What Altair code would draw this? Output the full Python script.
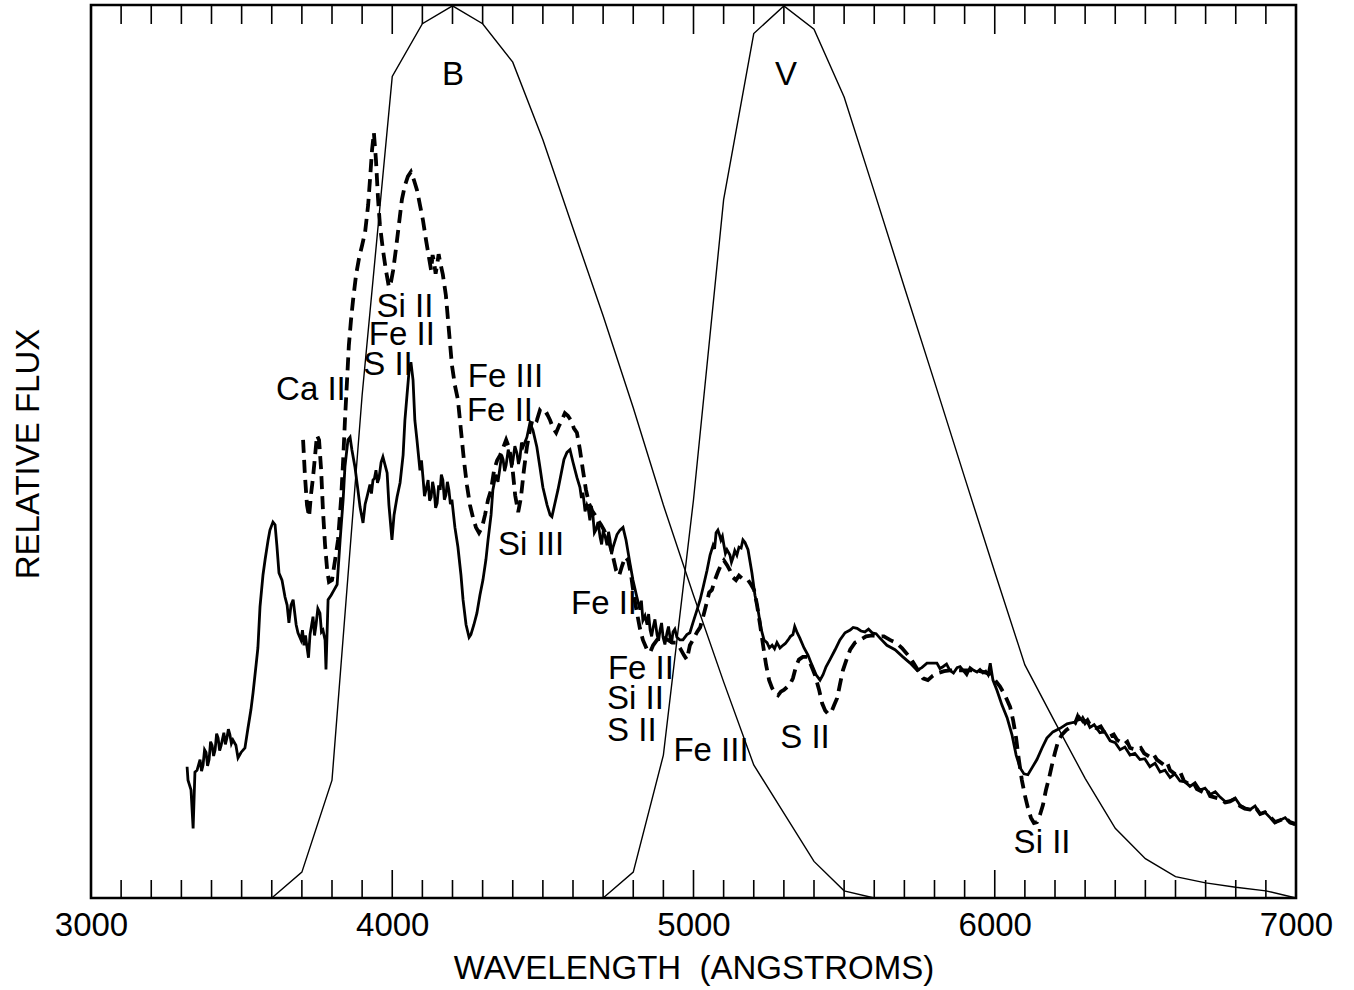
import altair as alt
import pandas as pd

FONT = "Liberation Sans"
FS = 33

# --- spectrum (solid): (wavelength in Angstrom, relative flux) ---
solid = [
    (3319, 14.7), (3322, 13.2), (3332, 12.1), (3339, 7.8), (3345, 14.1), (3352, 14.3), (3362, 15.5),
    (3367, 14.2), (3372, 14.9), (3377, 16.6), (3382, 16.3), (3387, 14.8), (3392, 15.5), (3397, 17.5),
    (3402, 17.1), (3407, 15.9), (3412, 16.6), (3417, 18.4), (3422, 17.9), (3427, 16.5), (3432, 17.1),
    (3441, 18.5), (3446, 17.2), (3451, 17.9), (3456, 18.9), (3461, 18.3), (3466, 17.3), (3471, 17.7),
    (3481, 17.1), (3488, 15.7), (3498, 16.3),
    (3511, 16.8), (3521, 19.0), (3531, 21.1), (3538, 23.0), (3548, 26.1), (3554, 28.0), (3561, 32.6),
    (3571, 36.2), (3578, 37.9), (3588, 40.1), (3594, 41.2), (3604, 42.1), (3611, 41.8), (3617, 39.5),
    (3624, 36.4), (3634, 35.6), (3644, 33.7), (3651, 32.8), (3657, 30.8), (3664, 32.8), (3671, 33.4),
    (3681, 30.6), (3687, 29.7), (3697, 28.9), (3702, 30.0), (3707, 28.3), (3712, 29.4), (3717, 28.1),
    (3722, 26.9), (3727, 29.5), (3732, 30.5), (3737, 31.5), (3742, 29.4), (3747, 30.6), (3753, 32.4),
    (3760, 31.9), (3765, 29.8), (3770, 30.0), (3777, 28.9), (3780, 25.6), (3787, 33.4), (3797, 33.9),
    (3807, 34.5),
    (3817, 35.1), (3827, 40.1), (3837, 44.6), (3843, 48.3), (3853, 51.3), (3860, 51.6), (3866, 50.2),
    (3876, 48.3), (3886, 45.7), (3893, 43.8), (3903, 42.0), (3910, 44.1), (3916, 44.9), (3926, 46.3),
    (3931, 45.3), (3936, 46.8), (3941, 47.0), (3946, 47.9), (3951, 46.5), (3956, 47.0), (3963, 48.8),
    (3969, 49.4), (3976, 48.5), (3983, 47.6),
    (3989, 44.0), (3999, 40.1), (4006, 42.9), (4016, 44.9), (4026, 46.5), (4036, 49.6), (4042, 53.5),
    (4049, 56.3), (4056, 59.1), (4062, 60.0), (4069, 58.0), (4075, 53.5), (4082, 51.3), (4092, 47.9),
    (4097, 49.0), (4102, 47.1), (4107, 45.0), (4112, 45.7), (4119, 46.8), (4124, 44.5), (4129, 44.9),
    (4134, 46.6), (4139, 45.7), (4144, 43.7), (4149, 44.2), (4154, 46.2), (4159, 45.7), (4163, 47.4),
    (4168, 46.8), (4173, 44.6), (4178, 45.1), (4183, 46.6), (4188, 45.7), (4193, 44.1), (4198, 44.6),
    (4208, 41.5), (4218, 39.3), (4228, 36.2),
    (4235, 33.4), (4245, 30.6), (4255, 29.2), (4261, 29.5), (4271, 30.6), (4281, 31.9), (4291, 33.9),
    (4301, 35.6), (4311, 37.9), (4318, 40.1), (4328, 42.9), (4334, 45.7), (4344, 47.4), (4351, 46.6),
    (4358, 48.3), (4363, 49.6), (4368, 49.1), (4373, 47.8), (4378, 48.5), (4385, 50.2), (4391, 49.4),
    (4396, 48.2), (4401, 49.1), (4407, 50.6), (4414, 49.8), (4419, 48.6), (4424, 49.3), (4429, 51.0),
    (4434, 50.5),
    (4447, 51.6), (4457, 53.2), (4467, 52.4), (4480, 50.5), (4490, 48.3), (4500, 46.0), (4514, 44.0),
    (4524, 42.9), (4530, 42.7), (4540, 44.2), (4550, 45.7), (4560, 47.4), (4570, 49.1), (4580, 49.9),
    (4590, 50.2), (4600, 48.8), (4613, 47.1), (4623, 46.0), (4628, 44.8), (4633, 45.4), (4640, 43.3),
    (4646, 44.0), (4651, 43.5), (4656, 42.3), (4661, 43.9), (4666, 42.9), (4671, 40.9), (4676, 41.2),
    (4683, 42.1), (4690, 40.4), (4695, 39.6), (4700, 41.0), (4706, 40.6), (4713, 39.5), (4718, 41.0),
    (4723, 40.1), (4728, 38.5), (4733, 39.3),
    (4746, 40.7), (4756, 41.2), (4766, 41.5), (4776, 40.1), (4789, 37.5), (4799, 35.6), (4812, 33.7),
    (4822, 32.3), (4827, 33.3), (4832, 31.1), (4839, 31.6), (4846, 30.6), (4851, 31.8), (4856, 30.0),
    (4861, 29.3), (4866, 30.3), (4872, 31.2), (4879, 29.5), (4884, 28.8), (4889, 30.0), (4894, 30.8),
    (4899, 29.2), (4905, 28.4), (4912, 29.7), (4917, 30.4), (4922, 29.2), (4927, 28.5), (4932, 29.8),
    (4938, 30.1), (4945, 29.2), (4955, 28.9), (4965, 28.9),
    (4978, 29.5), (4988, 29.7), (4998, 30.8), (5012, 32.3), (5022, 33.4), (5032, 34.8), (5045, 36.7),
    (5055, 38.4), (5065, 39.5), (5070, 39.1), (5075, 40.9), (5081, 41.2), (5086, 40.7), (5091, 40.1),
    (5096, 40.5), (5101, 39.5), (5106, 38.6), (5111, 39.0),
    (5121, 38.4), (5126, 37.6), (5131, 38.1), (5137, 38.9), (5144, 38.4), (5151, 39.3), (5158, 39.2),
    (5164, 40.1), (5171, 39.8), (5181, 39.0), (5194, 36.4),
    (5204, 33.9), (5214, 32.3), (5224, 30.2), (5234, 28.9), (5244, 28.6), (5252, 28.0), (5261, 28.3),
    (5269, 27.9), (5277, 28.6), (5287, 28.0), (5297, 28.3), (5305, 28.5), (5314, 28.9), (5322, 29.3),
    (5330, 29.5), (5336, 30.4), (5343, 29.8), (5353, 29.1), (5367, 28.0), (5380, 27.2),
    (5393, 26.1), (5407, 25.0), (5420, 24.4), (5430, 25.0), (5440, 25.9), (5453, 26.7), (5470, 27.8),
    (5486, 28.9), (5503, 29.7), (5520, 30.0), (5530, 30.3), (5543, 30.2), (5556, 29.9), (5569, 29.8),
    (5581, 30.1), (5593, 29.7), (5606, 29.6), (5619, 29.1),
    (5642, 28.3), (5669, 27.8), (5695, 27.0), (5719, 26.3), (5742, 25.5), (5758, 25.8), (5775, 26.3),
    (5792, 26.3), (5808, 26.3), (5818, 25.7), (5828, 25.9), (5840, 26.2), (5851, 25.5), (5863, 25.2),
    (5875, 25.8), (5885, 25.9), (5895, 25.5), (5907, 25.0), (5918, 25.8), (5930, 25.5),
    (5941, 25.3), (5951, 25.6), (5961, 25.2), (5970, 25.4), (5978, 25.0), (5985, 26.3), (5994, 24.4),
    (6007, 23.3), (6024, 21.6), (6041, 20.2),
    (6057, 18.3), (6071, 16.0), (6084, 14.6), (6097, 13.9), (6110, 13.8), (6124, 14.6), (6140, 15.5),
    (6157, 16.8), (6173, 17.9), (6193, 18.6), (6217, 19.0), (6240, 19.5), (6266, 19.7), (6280, 20.3),
    (6293, 19.7), (6305, 19.9), (6316, 19.1), (6330, 19.4), (6349, 18.5), (6365, 18.6), (6383, 17.6),
    (6400, 17.4), (6416, 16.6), (6432, 16.9), (6449, 16.0), (6465, 16.2), (6482, 15.5), (6498, 15.6),
    (6515, 14.7), (6532, 15.1), (6549, 14.1), (6565, 14.3), (6582, 13.5), (6598, 13.9), (6615, 13.1),
    (6632, 13.0), (6648, 12.5), (6665, 12.9), (6681, 12.1), (6698, 12.3), (6715, 11.6), (6732, 11.9),
    (6748, 11.3), (6765, 10.8), (6781, 10.9), (6798, 11.2), (6814, 10.4), (6830, 10.1), (6847, 9.9),
    (6864, 10.3), (6881, 9.4), (6897, 9.6), (6914, 9.0), (6930, 8.4), (6947, 8.7), (6964, 9.0),
    (6980, 8.4), (6997, 8.2),
]

# --- spectrum (dashed) ---
dashed = [
    (3704, 51.3), (3710, 47.4), (3717, 44.0), (3724, 42.7), (3730, 45.1), (3737, 47.1), (3744, 49.6),
    (3750, 51.8), (3757, 51.3), (3764, 47.9), (3770, 43.4), (3777, 39.5), (3784, 36.7), (3790, 35.4),
    (3800, 35.6), (3810, 37.8), (3820, 40.1), (3830, 44.6), (3837, 49.0), (3843, 53.5), (3850, 58.0),
    (3856, 61.9), (3863, 64.7), (3870, 67.0), (3880, 69.8), (3890, 71.7), (3900, 73.1), (3910, 74.6),
    (3920, 77.6), (3926, 80.4), (3933, 83.8), (3939, 85.7), (3946, 82.6), (3953, 78.2), (3959, 75.4),
    (3969, 72.6), (3979, 70.3), (3989, 68.4), (3996, 69.0), (4003, 70.3), (4012, 72.6), (4022, 75.4),
    (4032, 78.2), (4042, 79.8), (4052, 80.8), (4062, 81.3), (4072, 80.4), (4082, 79.3), (4092, 77.6),
    (4102, 75.9), (4112, 73.7), (4122, 71.7), (4129, 70.3), (4134, 72.0), (4139, 71.2), (4144, 69.9),
    (4149, 70.9), (4154, 72.1), (4159, 71.2),
    (4168, 69.8), (4178, 67.5), (4188, 63.6), (4198, 59.7), (4208, 57.4), (4218, 55.8), (4228, 52.4),
    (4238, 49.0), (4248, 46.2), (4258, 44.0), (4268, 42.6), (4278, 41.5), (4288, 40.9), (4298, 41.5),
    (4308, 42.9), (4318, 44.6), (4328, 45.7), (4338, 47.9), (4348, 49.0), (4358, 49.6), (4368, 50.4),
    (4378, 51.3), (4388, 50.4), (4398, 48.5), (4408, 45.1), (4418, 43.2), (4427, 44.8), (4437, 47.9),
    (4447, 50.5), (4457, 52.4), (4467, 53.8), (4480, 53.5), (4490, 54.6), (4504, 54.0), (4514, 54.2),
    (4524, 53.5), (4534, 52.6), (4544, 52.1), (4554, 52.9), (4563, 53.5), (4573, 54.3), (4583, 54.0),
    (4593, 53.5), (4603, 52.6), (4613, 52.1), (4623, 50.2), (4633, 47.9), (4643, 45.7), (4653, 44.2),
    (4663, 43.4), (4673, 42.9), (4683, 42.3), (4693, 41.8), (4703, 41.2), (4713, 40.4), (4723, 39.5),
    (4733, 38.2), (4743, 36.7), (4753, 36.1), (4763, 37.2), (4773, 38.2), (4783, 37.8), (4793, 36.1),
    (4802, 33.9), (4812, 32.0), (4822, 30.2), (4832, 28.9), (4846, 27.8), (4856, 27.5), (4866, 28.3),
    (4879, 28.9), (4889, 28.9), (4902, 29.1), (4915, 28.9), (4929, 28.6), (4942, 28.6), (4955, 28.0),
    (4968, 27.2), (4978, 26.7), (4988, 28.3), (4998, 28.9), (5012, 29.8), (5022, 30.3), (5032, 31.5),
    (5042, 32.8), (5052, 34.2), (5061, 34.5), (5071, 35.6), (5081, 36.5), (5091, 37.3), (5101, 37.8),
    (5111, 37.3), (5121, 36.7), (5131, 35.9), (5141, 35.6), (5151, 36.1), (5161, 35.8), (5171, 35.8),
    (5181, 35.6), (5191, 35.1), (5201, 34.5), (5211, 32.8), (5221, 30.6), (5231, 28.3), (5241, 26.1),
    (5251, 24.4), (5261, 23.5), (5271, 23.0), (5281, 22.7), (5290, 23.1), (5300, 23.3), (5310, 23.6),
    (5320, 23.9), (5330, 24.6), (5340, 25.9), (5350, 26.7), (5363, 27.0), (5377, 27.0), (5390, 26.1),
    (5403, 25.0), (5417, 23.3), (5427, 21.8), (5437, 21.0), (5447, 20.6), (5457, 20.8), (5467, 21.6),
    (5477, 22.4), (5486, 23.9), (5496, 25.5), (5510, 26.9), (5520, 27.8), (5536, 28.6), (5553, 28.9),
    (5573, 29.3), (5593, 29.4), (5613, 29.3), (5632, 29.3), (5652, 28.9), (5672, 28.6), (5692, 28.0),
    (5712, 27.2), (5729, 26.4), (5745, 25.5), (5762, 24.6), (5778, 24.4), (5795, 24.9), (5812, 25.2),
    (5832, 25.4), (5851, 25.5), (5875, 25.5), (5898, 25.5), (5918, 25.5), (5941, 25.5), (5964, 25.3),
    (5984, 25.1), (6001, 24.4), (6017, 23.7), (6034, 22.7), (6051, 21.4), (6061, 19.9), (6071, 17.9),
    (6080, 15.5), (6090, 13.2), (6100, 11.5), (6110, 10.1), (6120, 9.0), (6130, 8.4), (6140, 8.5),
    (6150, 9.3), (6160, 10.4), (6170, 12.1), (6180, 13.4), (6190, 14.9), (6200, 16.3), (6210, 17.5),
    (6223, 18.3), (6237, 18.8), (6250, 19.1), (6266, 19.5), (6275, 20.3), (6283, 19.6), (6292, 20.1),
    (6300, 19.6), (6308, 19.9), (6316, 19.4), (6339, 19.0), (6352, 19.2), (6363, 18.6), (6383, 18.1),
    (6395, 18.3), (6406, 17.7), (6429, 17.2), (6440, 17.5), (6449, 16.8), (6472, 16.6), (6485, 16.8),
    (6496, 16.2), (6515, 15.8), (6527, 16.1), (6538, 15.5), (6562, 14.9), (6572, 15.2), (6582, 14.3),
    (6605, 13.7), (6617, 14.0), (6628, 13.1), (6648, 12.7), (6660, 12.9), (6671, 12.2), (6695, 11.8),
    (6705, 12.1), (6715, 11.4), (6748, 11.1), (6765, 10.7), (6781, 10.8), (6797, 11.1), (6814, 10.3),
    (6830, 10.0), (6847, 9.9), (6864, 10.2), (6881, 9.4), (6897, 9.6), (6914, 9.1), (6930, 8.5),
    (6947, 8.7), (6964, 9.0), (6980, 8.5), (6997, 8.3),
]

# --- filter transmission curves ---
filter_B = [
    (3600, 0.0), (3700, 2.9), (3800, 13.2), (3900, 56.3), (4000, 92.0), (4100, 97.9), (4200, 99.9),
    (4300, 97.9), (4400, 93.6), (4500, 84.9), (4600, 75.0), (4700, 65.2), (4800, 54.9), (4900, 44.0),
    (5000, 33.9), (5100, 24.2), (5200, 14.9), (5300, 9.5), (5400, 4.1), (5500, 0.8), (5600, 0.0),
]
filter_V = [
    (4700, 0.0), (4800, 2.9), (4900, 16.0), (5000, 44.6), (5100, 78.2), (5200, 96.8), (5300, 99.9),
    (5400, 97.3), (5500, 89.7), (5600, 79.1), (5700, 68.4), (5800, 57.8), (5900, 47.1), (6000, 36.5),
    (6100, 26.1), (6200, 19.7), (6300, 13.4), (6400, 7.8), (6500, 4.4), (6600, 2.4), (6700, 1.7),
    (6800, 1.2), (6900, 0.8), (7000, 0.0),
]

# --- axis ticks ---
tick_minor = [3100, 3200, 3300, 3400, 3500, 3600, 3700, 3800, 3900,
              4100, 4200, 4300, 4400, 4500, 4600, 4700, 4800, 4900,
              5100, 5200, 5300, 5400, 5500, 5600, 5700, 5800, 5900,
              6100, 6200, 6300, 6400, 6500, 6600, 6700, 6800, 6900]
tick_major = [4000, 5000, 6000]
tick_labels = [3000, 4000, 5000, 6000, 7000]

# --- annotations ---
labels_center = [
    ("B", 4202, 92.2), ("V", 5307, 92.2), ("Si II", 4042, 66.2), ("Fe II", 4032, 63.0),
    ("S II", 3986, 59.7), ("Ca II", 3730, 56.9), ("Si III", 4461, 39.5), ("Fe II", 4703, 32.9),
    ("Fe III", 5058, 16.5), ("S II", 5370, 17.9), ("Si II", 6157, 6.2),
]
labels_left = [
    ("Fe III", 4251, 58.3), ("Fe II", 4248, 54.5), ("Fe II", 4716, 25.6),
    ("Si II", 4713, 22.3), ("S II", 4713, 18.7),
]

W, H = 1205, 893
xs = alt.Scale(domain=[3000, 7000], nice=False, zero=False)
ys = alt.Scale(domain=[0, 100], nice=False, zero=False)

def df(pairs, cols=("wl", "flux")):
    return pd.DataFrame(pairs, columns=list(cols))

xaxis = alt.Axis(values=tick_labels, format="d", ticks=False, domain=False, grid=False,
                 labelFont=FONT, labelFontSize=FS, labelColor="black", labelPadding=27,
                 labelBaseline="middle", labelFlush=False, labelOverlap=False,
                 title="WAVELENGTH\u00a0 (ANGSTROMS)", titleFont=FONT, titleFontSize=FS,
                 titleFontWeight="normal", titleColor="black", titleY=70, titleBaseline="middle")
yaxis = alt.Axis(labels=False, ticks=False, domain=False, grid=False,
                 title="RELATIVE FLUX", titleFont=FONT, titleFontSize=FS, titleFontWeight="normal",
                 titleColor="black", titleAngle=270, titleX=-63, titleY=H / 2 + 2,
                 titleBaseline="middle", titleAlign="center")

base_x = alt.X("wl:Q", scale=xs, axis=xaxis)
base_y = alt.Y("flux:Q", scale=ys, axis=yaxis)
px = alt.X("wl:Q", scale=xs)
py = alt.Y("flux:Q", scale=ys)

solid_line = alt.Chart(df(solid)).mark_line(color="black", strokeWidth=2.8).encode(x=base_x, y=base_y)
dashed_line = alt.Chart(df(dashed)).mark_line(color="black", strokeWidth=3.8, strokeDash=[13, 7]).encode(x=px, y=py)
b_line = alt.Chart(df(filter_B)).mark_line(color="black", strokeWidth=1.4).encode(x=px, y=py)
v_line = alt.Chart(df(filter_V)).mark_line(color="black", strokeWidth=1.4).encode(x=px, y=py)

minor_df = pd.DataFrame({"wl": tick_minor})
major_df = pd.DataFrame({"wl": tick_major})
ticks = (
    alt.Chart(minor_df).mark_rule(color="black", strokeWidth=1.6).encode(x=px, y=alt.value(0), y2=alt.value(19))
    + alt.Chart(minor_df).mark_rule(color="black", strokeWidth=1.6).encode(x=px, y=alt.value(H), y2=alt.value(H - 18))
    + alt.Chart(major_df).mark_rule(color="black", strokeWidth=1.6).encode(x=px, y=alt.value(0), y2=alt.value(29))
    + alt.Chart(major_df).mark_rule(color="black", strokeWidth=1.6).encode(x=px, y=alt.value(H), y2=alt.value(H - 28))
)

lab_c = alt.Chart(pd.DataFrame(labels_center, columns=["t", "wl", "flux"])).mark_text(
    font=FONT, fontSize=FS, color="black", align="center", baseline="middle").encode(
    x=px, y=py, text="t:N")
lab_l = alt.Chart(pd.DataFrame(labels_left, columns=["t", "wl", "flux"])).mark_text(
    font=FONT, fontSize=FS, color="black", align="left", baseline="middle").encode(
    x=px, y=py, text="t:N")

chart = alt.layer(solid_line, b_line, v_line, dashed_line, ticks, lab_c, lab_l).properties(
    width=W, height=H,
    autosize=alt.AutoSizeParams(type="none"),
    padding={"left": 91, "top": 5, "right": 58, "bottom": 92},
    background="white",
).configure_view(stroke="black", strokeWidth=2.6)

chart.save("out.html", embed_options={"renderer": "svg", "actions": False})
